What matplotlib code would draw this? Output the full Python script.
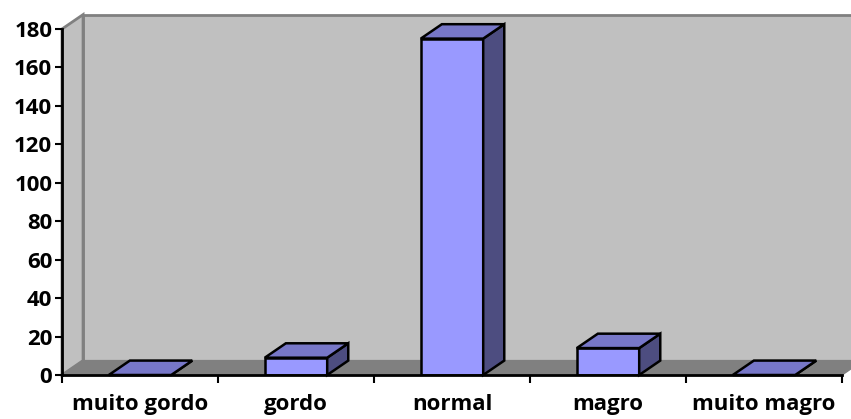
import matplotlib.pyplot as plt
from matplotlib.patches import Polygon

# Dados do gráfico
categorias = ['muito gordo', 'gordo', 'normal', 'magro', 'muito magro']
valores = [0, 9, 175, 14, 0]
yticks = list(range(0, 181, 20))

# Cores estilo Excel
cor_frente = '#9999FF'
cor_topo = '#7777C8'
cor_lado = '#4D4D80'
cor_parede = '#C0C0C0'
cor_chao = '#808080'

larg = 0.4          # largura da coluna
px, py = 0.135, 7.5  # deslocamento da profundidade (x em categorias, y em unidades)

plt.rcParams['font.family'] = ['Open Sans', 'DejaVu Sans']

fig = plt.figure(figsize=(8.51, 4.19), dpi=100)
ax = fig.add_axes([62 / 851, 44 / 419, 780 / 851, 346 / 419])
ax.set_xlim(-0.5, len(categorias) - 0.5)
ax.set_ylim(0, 180)
ax.patch.set_visible(False)

x0, x1 = -0.5, len(categorias) - 0.5

# Parede do fundo, parede lateral e chão
fundo = Polygon([(x0 + px, py), (x1 + px, py), (x1 + px, 180 + py), (x0 + px, 180 + py)],
                facecolor=cor_parede, edgecolor=cor_chao, lw=2, clip_on=False, zorder=0)
lateral = Polygon([(x0, 0), (x0, 180), (x0 + px, 180 + py), (x0 + px, py)],
                  facecolor=cor_parede, edgecolor=cor_chao, lw=2, clip_on=False, zorder=0)
chao = Polygon([(x0, 0), (x1, 0), (x1 + px, py), (x0 + px, py)],
               facecolor=cor_chao, edgecolor=cor_chao, lw=1, clip_on=False, zorder=1)
for p in (fundo, lateral, chao):
    ax.add_patch(p)

# Colunas 3D: frente, topo e lado
pos = list(range(len(categorias)))
ax.bar(pos, valores, width=larg, color=cor_frente, edgecolor='black', lw=1.8, zorder=3)
for i, v in zip(pos, valores):
    a, b = i - larg / 2, i + larg / 2
    topo = Polygon([(a, v), (b, v), (b + px, v + py), (a + px, v + py)],
                   facecolor=cor_topo, edgecolor='black', lw=1.8, clip_on=False, zorder=4)
    lado = Polygon([(b, 0), (b, v), (b + px, v + py), (b + px, py)],
                   facecolor=cor_lado, edgecolor='black', lw=1.8, clip_on=False, zorder=4)
    ax.add_patch(lado)
    ax.add_patch(topo)

# Eixos
for s in ('top', 'right'):
    ax.spines[s].set_visible(False)
for s in ('left', 'bottom'):
    ax.spines[s].set_linewidth(2)
    ax.spines[s].set_zorder(5)

ax.set_yticks(yticks)
ax.set_yticklabels([str(t) for t in yticks], fontsize=16, fontweight='bold')
ax.tick_params(axis='y', length=5, width=1.5, pad=2)

ax.set_xticks(pos)
ax.set_xticklabels(categorias, fontsize=16, fontweight='bold')
ax.set_xticks([k - 0.5 for k in range(len(categorias) + 1)], minor=True)
ax.tick_params(axis='x', which='major', length=0, pad=14)
ax.tick_params(axis='x', which='minor', length=6, width=1.5)

fig.savefig('out.png', dpi=100)
